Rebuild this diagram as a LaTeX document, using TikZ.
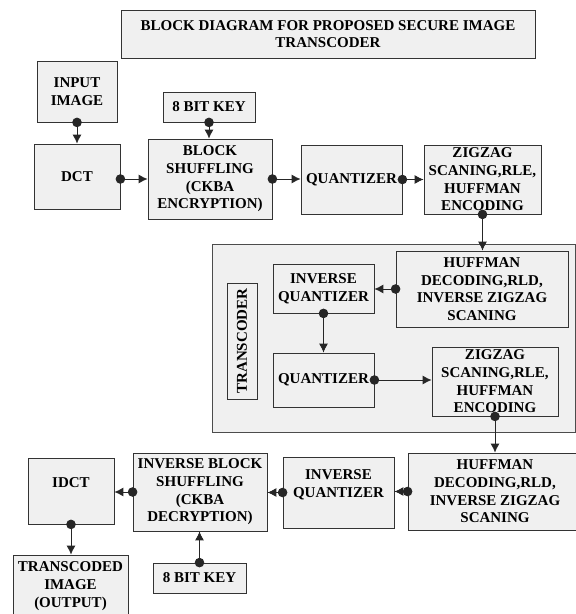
\documentclass[tikz,border=0pt]{standalone}
\usepackage{fontspec}
\setmainfont{Liberation Serif}
\usetikzlibrary{arrows.meta}

\begin{document}
\begin{tikzpicture}[x=1pt,y=-1pt,
    blk/.style={draw=black!80,fill=gray!12,line width=0.8pt,align=center,inner sep=1pt,
      font=\fontsize{15}{17.7}\selectfont\bfseries},
    link/.style={{Circle[length=9.5pt]}-{Latex[length=9pt,width=9pt]},shorten <=-4.75pt,
      line width=0.9pt,draw=black!85}]
  \useasboundingbox (0,0) rectangle (576,614);

  \node[blk,minimum width=414pt,minimum height=48pt] (title) at (328,34)
    {BLOCK DIAGRAM FOR PROPOSED SECURE IMAGE\\TRANSCODER};

  % encoder row
  \node[blk,minimum width=80pt,minimum height=61pt] (inimg) at (77,91.5) {INPUT\\IMAGE};
  \node[blk,minimum width=92pt,minimum height=30pt] (keyenc) at (209,107) {8 BIT KEY};
  \node[blk,minimum width=86pt,minimum height=65pt] (dct) at (77,176.5) {DCT};
  \node[blk,minimum width=124pt,minimum height=80pt] (shuf) at (210,179)
    {BLOCK\\SHUFFLING\\(CKBA\\ENCRYPTION)};
  \node[blk,minimum width=101pt,minimum height=69pt] (quant) at (351.5,179.5) {QUANTIZER};
  \node[blk,minimum width=117pt,minimum height=69pt] (zzenc) at (482.5,179.5)
    {ZIGZAG\\SCANING,RLE,\\HUFFMAN\\ENCODING};

  % transcoder
  \node[blk,draw=black!70,minimum width=363pt,minimum height=188pt] (tcbox) at (393.5,338) {};
  \node[blk,rotate=90,minimum width=116pt,minimum height=30pt] (tclabel) at (242,341) {TRANSCODER};
  \node[blk,minimum width=172pt,minimum height=76pt] (tcdec) at (482,289)
    {HUFFMAN\\DECODING,RLD,\\INVERSE ZIGZAG\\SCANING};
  \node[blk,minimum width=101pt,minimum height=49pt] (tciq) at (323.5,288.5) {INVERSE\\QUANTIZER};
  \node[blk,minimum width=101pt,minimum height=54pt] (tcq) at (323.5,380) {QUANTIZER};
  \node[blk,minimum width=126pt,minimum height=69pt] (tcenc) at (495,381.5)
    {ZIGZAG\\SCANING,RLE,\\HUFFMAN\\ENCODING};

  % decoder row
  \node[blk,minimum width=174pt,minimum height=77pt] (huffdec) at (495,491.5)
    {HUFFMAN\\DECODING,RLD,\\INVERSE ZIGZAG\\SCANING};
  \node[blk,minimum width=111pt,minimum height=71pt] (iquant) at (338.5,492.5)
    {INVERSE\\QUANTIZER\\\mbox{}};
  \node[blk,minimum width=134pt,minimum height=78pt] (ishuf) at (200,492)
    {INVERSE BLOCK\\SHUFFLING\\(CKBA\\DECRYPTION)};
  \node[blk,minimum width=86pt,minimum height=66pt] (idct) at (71,491) {IDCT\\\mbox{}};
  \node[blk,minimum width=115pt,minimum height=62pt] (outimg) at (70.5,586)
    {TRANSCODED\\IMAGE\\(OUTPUT)};
  \node[blk,minimum width=93pt,minimum height=30pt] (keydec) at (199.5,578) {8 BIT KEY};

  \draw[link] (inimg) -- (dct);
  \draw[link] (keyenc) -- (shuf.north -| keyenc);
  \draw[link] (dct.east |- shuf.west) -- (shuf.west);
  \draw[link] (shuf.east) -- (quant.west |- shuf.east);
  \draw[link] (quant.east) -- (zzenc.west);
  \draw[link] (zzenc.south) -- (tcdec.north -| zzenc.south);
  \draw[link] (tcdec.west) -- (tciq.east |- tcdec.west);
  \draw[link] (tciq.south) -- (tcq.north);
  \draw[link] (tcq.east) -- (tcq.east -| tcenc.west);
  \draw[link] (tcenc.south) -- (huffdec.north -| tcenc.south);
  \draw[link] (huffdec.west) -- (iquant.east |- huffdec.west);
  \draw[link] (iquant.west) -- (ishuf.east |- iquant.west);
  \draw[link] (ishuf.west) -- (idct.east |- ishuf.west);
  \draw[link] (idct.south) -- (outimg.north -| idct.south);
  \draw[link] (keydec.north) -- (ishuf.south -| keydec.north);
\end{tikzpicture}
\end{document}
